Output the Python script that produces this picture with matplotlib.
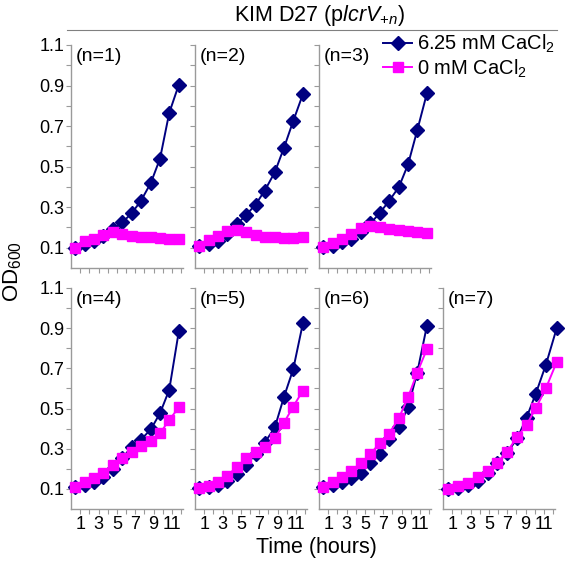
import matplotlib
matplotlib.use('Agg')
import matplotlib.pyplot as plt
from matplotlib.lines import Line2D

plt.rcParams['font.family'] = ['Liberation Sans', 'DejaVu Sans']
plt.rcParams['mathtext.fontset'] = 'custom'
plt.rcParams['mathtext.rm'] = 'Liberation Sans'
plt.rcParams['mathtext.it'] = 'Liberation Sans:italic'
plt.rcParams['mathtext.bf'] = 'Liberation Sans:bold'

# ---- data ----
hours = [0.45, 1.5, 2.5, 3.5, 4.6, 5.6, 6.6, 7.6, 8.7, 9.7, 10.7, 11.75]
hours_n7 = [0.5, 1.6, 2.7, 3.8, 4.9, 5.9, 7.0, 8.1, 9.1, 10.1, 11.2, 12.4]

panel_labels = ['(n=1)', '(n=2)', '(n=3)', '(n=4)', '(n=5)', '(n=6)', '(n=7)']

ca625_n1 = [0.10, 0.12, 0.135, 0.16, 0.19, 0.225, 0.27, 0.33, 0.42, 0.54, 0.765, 0.905]
ca0_n1 = [0.10, 0.131, 0.143, 0.164, 0.176, 0.168, 0.159, 0.154, 0.151, 0.148, 0.145, 0.141]

ca625_n2 = [0.11, 0.118, 0.135, 0.168, 0.217, 0.263, 0.313, 0.382, 0.473, 0.594, 0.725, 0.857]
ca0_n2 = [0.11, 0.138, 0.159, 0.184, 0.188, 0.176, 0.164, 0.154, 0.151, 0.148, 0.148, 0.151]

ca625_n3 = [0.105, 0.11, 0.126, 0.143, 0.176, 0.22, 0.27, 0.329, 0.399, 0.511, 0.679, 0.861]
ca0_n3 = [0.105, 0.121, 0.143, 0.168, 0.196, 0.209, 0.204, 0.193, 0.188, 0.184, 0.179, 0.173]

ca625_n4 = [0.111, 0.12, 0.136, 0.161, 0.198, 0.253, 0.31, 0.344, 0.397, 0.477, 0.593, 0.886]
ca0_n4 = [0.111, 0.136, 0.153, 0.181, 0.219, 0.253, 0.286, 0.314, 0.34, 0.377, 0.443, 0.506]

ca625_n5 = [0.103, 0.108, 0.12, 0.141, 0.173, 0.219, 0.274, 0.33, 0.407, 0.559, 0.696, 0.924]
ca0_n5 = [0.103, 0.115, 0.136, 0.165, 0.211, 0.253, 0.286, 0.31, 0.352, 0.43, 0.51, 0.589]

ca625_n6 = [0.111, 0.12, 0.136, 0.153, 0.181, 0.231, 0.274, 0.347, 0.41, 0.506, 0.679, 0.911]
ca0_n6 = [0.111, 0.133, 0.161, 0.191, 0.228, 0.274, 0.327, 0.374, 0.452, 0.556, 0.679, 0.795]

ca625_n7 = [0.10, 0.103, 0.12, 0.141, 0.178, 0.228, 0.281, 0.352, 0.455, 0.573, 0.717, 0.902]
ca0_n7 = [0.10, 0.115, 0.131, 0.158, 0.191, 0.231, 0.286, 0.36, 0.418, 0.501, 0.60, 0.733]

series_625 = [ca625_n1, ca625_n2, ca625_n3, ca625_n4, ca625_n5, ca625_n6, ca625_n7]
series_0 = [ca0_n1, ca0_n2, ca0_n3, ca0_n4, ca0_n5, ca0_n6, ca0_n7]
x_series = [hours, hours, hours, hours, hours, hours, hours_n7]

y_ticks = [0.1, 0.2, 0.3, 0.4, 0.5, 0.6, 0.7, 0.8, 0.9, 1.0, 1.1]
y_ticklabels = ['0.1', '', '0.3', '', '0.5', '', '0.7', '', '0.9', '', '1.1']
x_ticks = [1, 2, 3, 4, 5, 6, 7, 8, 9, 10, 11, 12]
x_ticklabels = ['1', '', '3', '', '5', '', '7', '', '9', '', '11', '']

legend_labels = ['6.25 mM CaCl$_2$', '0 mM CaCl$_2$']

# ---- layout ----
W, H = 566, 561
fig = plt.figure(figsize=(W / 100, H / 100), dpi=100)

navy = '#000080'
pink = '#ff00ff'
spine_col = '#9a9a9a'

lefts = [71, 195, 319, 443]
pw = 112
rows = [(45, 268), (288, 509)]
positions = [(0, 0), (0, 1), (0, 2), (1, 0), (1, 1), (1, 2), (1, 3)]

handles = None
for i, (r, c) in enumerate(positions):
    top, bot = rows[r]
    ax = fig.add_axes([lefts[c] / W, (H - bot) / H, pw / W, (bot - top) / H])
    xs = x_series[i]
    h1, = ax.plot(xs, series_625[i], color=navy, lw=1.4, marker='D', ms=7.6,
                  mfc=navy, mec=navy, clip_on=False, zorder=3)
    h2, = ax.plot(xs, series_0[i], color=pink, lw=1.4, marker='s', ms=7,
                  mfc=pink, mec=pink, clip_on=False, zorder=4)
    if handles is None:
        handles = [h1, h2]
    ax.set_xlim(0, 12.2)
    ax.set_ylim(0, 1.1)
    for s in ['top', 'right']:
        ax.spines[s].set_visible(False)
    for s in ['left', 'bottom']:
        ax.spines[s].set_color(spine_col)
        ax.spines[s].set_linewidth(1.0)
    ax.set_yticks(y_ticks)
    ax.set_xticks(x_ticks)
    ax.tick_params(axis='both', direction='out', length=3.5, width=0.8,
                   color=spine_col, labelsize=13, pad=1.5)
    if c == 0:
        ax.set_yticklabels(y_ticklabels)
    else:
        ax.set_yticklabels([])
    if r == 1:
        ax.set_xticklabels(x_ticklabels)
    else:
        ax.set_xticklabels([])
    ax.text(0.04, 0.985, panel_labels[i], transform=ax.transAxes,
            ha='left', va='top', fontsize=14)

fig.legend(handles, legend_labels, loc='upper left',
           bbox_to_anchor=(383 / W, 1 - 33 / H), frameon=False,
           fontsize=14.5, handlelength=1.45, handletextpad=0.25,
           borderpad=0, borderaxespad=0, labelspacing=0.1)

fig.text(320 / W, 1 - 15 / H, r'KIM D27 (p$\mathit{lcrV}_{\mathit{+n}}$)',
         ha='center', va='center', fontsize=15.5)
fig.add_artist(Line2D([67 / W, 557 / W], [1 - 30 / H, 1 - 30 / H],
                      color='#808080', lw=0.8))
fig.text(316 / W, 1 - 548 / H, 'Time (hours)', ha='center', va='center',
         fontsize=15.5)
fig.text(13 / W, 1 - 272 / H, 'OD$_{600}$', ha='center', va='center',
         rotation=90, fontsize=16)

fig.savefig('out.png', dpi=100)
